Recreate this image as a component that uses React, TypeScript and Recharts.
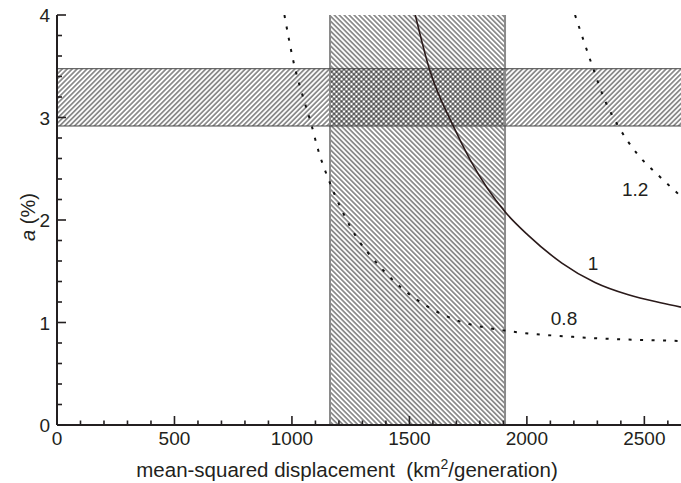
import React from "react";
import {
  ComposedChart,
  Line,
  XAxis,
  YAxis,
  ReferenceArea,
  ReferenceLine,
  ReferenceDot,
  Label
} from "recharts";

// x ticks (km^2/generation), every 100, labelled every 500
const xTicks = [0, 100, 200, 300, 400, 500, 600, 700, 800, 900, 1000, 1100, 1200, 1300, 1400, 1500, 1600, 1700, 1800, 1900, 2000, 2100, 2200, 2300, 2400, 2500, 2600];
// y ticks (%), every 0.2, labelled every 1
const yTicks = [0, 0.2, 0.4, 0.6, 0.8, 1, 1.2, 1.4, 1.6, 1.8, 2, 2.2, 2.4, 2.6, 2.8, 3, 3.2, 3.4, 3.6, 3.8, 4];

// curve for ratio 1 (solid)
const curve1X = [1525, 1584, 1686, 1758, 1907, 2006, 2149, 2290, 2432, 2574, 2656];
const curve1Y = [4.0, 3.48, 2.92, 2.59, 2.08, 1.85, 1.58, 1.39, 1.27, 1.19, 1.15];

// curve for ratio 0.8 (dotted)
const curve08X = [968, 1013, 1042, 1084, 1112, 1162, 1205, 1290, 1324, 1460, 1553, 1703, 1911, 2197, 2656];
const curve08Y = [4.0, 3.48, 3.24, 2.92, 2.68, 2.36, 2.13, 1.78, 1.68, 1.35, 1.19, 1.02, 0.92, 0.86, 0.82];

// curve for ratio 1.2 (dotted)
const curve12X = [2205, 2282, 2326, 2388, 2468, 2567, 2656];
const curve12Y = [4.0, 3.48, 3.2, 2.92, 2.65, 2.42, 2.23];

// estimated ranges (hatched bands)
const displacementRange = [1162, 1907];
const aRange = [2.917, 3.476];

const curveLabels = [
  { text: "1.2", x: 2461, y: 2.3 },
  { text: "1", x: 2282, y: 1.58 },
  { text: "0.8", x: 2158, y: 1.04 }
];

const toPoints = (xs: number[], ys: number[]) => xs.map((x, i) => ({ x, y: ys[i] }));

const INK = "#231f20";
const FONT = "'Liberation Sans', Arial, sans-serif";

const isMajor = (v: number, step: number) => Math.abs(v / step - Math.round(v / step)) < 1e-6;

function BottomTick(props: any) {
  const { x, y, payload } = props;
  const major = isMajor(payload.value, 500);
  return (
    <g>
      <line x1={x} x2={x} y1={y} y2={y - (major ? 9 : 4.5)} stroke={INK} strokeWidth={1.6} />
      {major && (
        <text x={x} y={y + 20} textAnchor="middle" fontSize={19} fontFamily={FONT} fill={INK}>
          {payload.value}
        </text>
      )}
    </g>
  );
}

function TopTick(props: any) {
  const { x, y, payload } = props;
  const major = isMajor(payload.value, 500);
  return <line x1={x} x2={x} y1={y} y2={y + (major ? 9 : 4.5)} stroke={INK} strokeWidth={1.6} />;
}

function LeftTick(props: any) {
  const { x, y, payload } = props;
  const major = isMajor(payload.value, 1);
  return (
    <g>
      <line x1={x} x2={x + (major ? 9 : 5)} y1={y} y2={y} stroke={INK} strokeWidth={1.6} />
      {major && (
        <text x={x - 7} y={y} dy={7} textAnchor="end" fontSize={19} fontFamily={FONT} fill={INK}>
          {Math.round(payload.value)}
        </text>
      )}
    </g>
  );
}

export default function App() {
  return (
    <div style={{ position: "absolute", left: 0, top: 0, background: "#fff" }}>
      <ComposedChart width={681} height={483} margin={{ top: 15, right: 0, bottom: 0, left: 0 }}>
        <defs>
          <pattern id="hatchBack" width="3.5" height="3.5" patternUnits="userSpaceOnUse" patternTransform="rotate(-45)">
            <line x1="1.75" y1="0" x2="1.75" y2="3.5" stroke="#111" strokeWidth="0.85" />
          </pattern>
          <pattern id="hatchFwd" width="3.5" height="3.5" patternUnits="userSpaceOnUse" patternTransform="rotate(45)">
            <line x1="1.75" y1="0" x2="1.75" y2="3.5" stroke="#111" strokeWidth="0.85" />
          </pattern>
        </defs>

        <XAxis
          type="number"
          dataKey="x"
          domain={[0, 2656]}
          allowDataOverflow
          ticks={xTicks}
          interval={0}
          height={58}
          tickSize={0}
          tickMargin={0}
          tickLine={false}
          axisLine={{ stroke: INK, strokeWidth: 2 }}
          tick={<BottomTick />}
        >
          <Label
            content={() => (
              <text x={347} y={477} textAnchor="middle" fontSize={20.5} fontFamily={FONT} fill={INK}>
                mean-squared displacement{"\u00a0\u00a0"}(km
                <tspan dy={-8} fontSize={14}>2</tspan>
                <tspan dy={8}>/generation)</tspan>
              </text>
            )}
          />
        </XAxis>
        <XAxis
          xAxisId="top"
          orientation="top"
          type="number"
          dataKey="x"
          domain={[0, 2656]}
          allowDataOverflow
          ticks={xTicks}
          interval={0}
          height={0}
          tickSize={0}
          tickMargin={0}
          tickLine={false}
          axisLine={{ stroke: "#444", strokeWidth: 2 }}
          tick={<TopTick />}
        />
        <YAxis
          type="number"
          domain={[0, 4]}
          allowDataOverflow
          ticks={yTicks}
          interval={0}
          width={57}
          tickSize={0}
          tickMargin={0}
          tickLine={false}
          axisLine={{ stroke: INK, strokeWidth: 2 }}
          tick={<LeftTick />}
        >
          <Label
            content={() => (
              <text
                x={28}
                y={217}
                transform="rotate(-90 28 217)"
                textAnchor="middle"
                dy={7}
                fontSize={20}
                fontFamily={FONT}
                fill={INK}
              >
                <tspan fontStyle="italic">a</tspan> (%)
              </text>
            )}
          />
        </YAxis>

        <ReferenceArea x1={displacementRange[0]} x2={displacementRange[1]} fill="url(#hatchBack)" fillOpacity={1} stroke="none" />
        <ReferenceArea y1={aRange[0]} y2={aRange[1]} fill="url(#hatchFwd)" fillOpacity={1} stroke="none" />
        <ReferenceLine x={displacementRange[0]} stroke="#8a8a8a" strokeWidth={2} />
        <ReferenceLine x={displacementRange[1]} stroke="#8a8a8a" strokeWidth={2} />
        <ReferenceLine y={aRange[0]} stroke="#444" strokeWidth={1} />
        <ReferenceLine y={aRange[1]} stroke="#444" strokeWidth={1} />

        <Line
          data={toPoints(curve08X, curve08Y)}
          dataKey="y"
          type="monotone"
          stroke="#111"
          strokeWidth={2}
          strokeDasharray="3 8.5"
          dot={false}
          activeDot={false}
          isAnimationActive={false}
        />
        <Line
          data={toPoints(curve12X, curve12Y)}
          dataKey="y"
          type="monotone"
          stroke="#111"
          strokeWidth={2}
          strokeDasharray="3 8.5"
          dot={false}
          activeDot={false}
          isAnimationActive={false}
        />
        <Line
          data={toPoints(curve1X, curve1Y)}
          dataKey="y"
          type="monotone"
          stroke="#2a1a1a"
          strokeWidth={1.6}
          dot={false}
          activeDot={false}
          isAnimationActive={false}
        />

        {curveLabels.map((c) => (
          <ReferenceDot
            key={c.text}
            x={c.x}
            y={c.y}
            r={0}
            fill="none"
            stroke="none"
            label={{ value: c.text, position: "center", fontSize: 19, fontFamily: FONT, fill: INK }}
          />
        ))}
      </ComposedChart>
    </div>
  );
}
